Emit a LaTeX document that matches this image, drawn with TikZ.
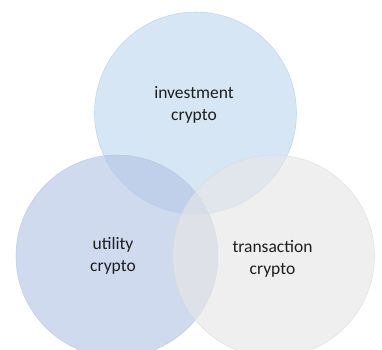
\documentclass[tikz,border=0pt]{standalone}
\usepackage{fontspec}
\setmainfont{Carlito}
\definecolor{topfill}{RGB}{192,217,238}
\definecolor{leftfill}{RGB}{181,198,229}
\definecolor{rightfill}{RGB}{230,230,230}
\definecolor{topline}{RGB}{170,200,230}
\definecolor{leftline}{RGB}{175,192,225}
\definecolor{rightline}{RGB}{215,215,215}
\definecolor{txt}{RGB}{30,30,30}
\tikzset{
  venn/.style={circle, minimum size=202pt, inner sep=0pt, fill opacity=0.65, draw opacity=0.6, line width=0.6pt},
  lbl/.style={align=center, inner sep=0pt, text=txt, font=\fontsize{17.5}{22}\selectfont}
}
\begin{document}
\begin{tikzpicture}[x=1pt,y=-1pt]
\useasboundingbox (0,0) rectangle (382,349);
\node[venn, fill=topfill, draw=topline] (top) at (195.5,113) {};
\node[venn, fill=leftfill, draw=leftline] (util) at (117,256) {};
\node[venn, fill=rightfill, draw=rightline] (trans) at (273.5,256) {};
\node[lbl] (tl) at (194,104.6) {investment\\crypto};
\node[lbl] (ul) at (113,256.3) {utility\\crypto};
\node[lbl] (rl) at (272.5,259) {transaction\\crypto};
\end{tikzpicture}
\end{document}
